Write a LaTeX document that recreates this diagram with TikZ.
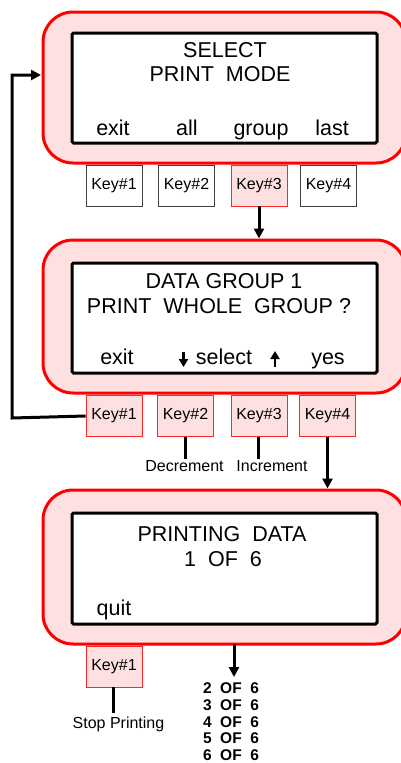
\documentclass[tikz,border=0pt]{standalone}
\usepackage{fontspec}
\setmainfont{Liberation Sans}
\usetikzlibrary{arrows.meta}
\definecolor{pinkfill}{RGB}{255,224,224}
\definecolor{redline}{RGB}{255,0,0}
\begin{document}
\begin{tikzpicture}[x=1pt,y=-1pt,
  screen/.style={draw=redline, fill=pinkfill, line width=3pt, rounded corners=30pt, inner sep=0pt, minimum width=363pt},
  lcd/.style={draw=black, fill=white, line width=3pt, rounded corners=1.5pt, inner sep=0pt, minimum width=305pt},
  keyw/.style={draw=black!75, fill=white, line width=0.7pt, minimum width=56pt, minimum height=41pt, inner sep=0pt, font=\fontsize{16}{19}\selectfont},
  keyp/.style={keyw, draw=redline!85, fill=pinkfill},
  big/.style={anchor=base, inner sep=0pt, font=\fontsize{21.5}{25}\selectfont},
  small/.style={anchor=base, inner sep=0pt, font=\fontsize{16}{19}\selectfont},
  boldlbl/.style={anchor=base, inner sep=0pt, font=\bfseries\fontsize{15.5}{18}\selectfont},
  conn/.style={line width=3pt},
  arr/.style={conn, -{Triangle[length=10pt,width=10pt]}},
  sarr/.style={line width=2.4pt, -{Triangle[length=8pt,width=9pt]}}
]
\useasboundingbox (0,0) rectangle (401,763);
\clip (0,0) rectangle (401,763);

% ---------- screen 1 ----------
\node[screen, minimum height=151pt] (s1) at (224.5,87.5) {};
\node[lcd, minimum height=110pt] (l1) at (224.5,88) {};
\node[big] (t11) at (225,57) {SELECT};
\node[big] (t12) at (220,81) {PRINT\ \ MODE};
\node[big] (f11) at (113,135) {exit};
\node[big] (f12) at (187,135) {all};
\node[big] (f13) at (261,135) {group};
\node[big] (f14) at (332,135) {last};
\node[keyw] (k11) at (114,185.5) {Key\#1};
\node[keyw] (k12) at (186.5,185.5) {Key\#2};
\node[keyp] (k13) at (259,185.5) {Key\#3};
\node[keyw] (k14) at (328.5,185.5) {Key\#4};

% ---------- screen 2 ----------
\node[screen, minimum height=153pt] (s2) at (224.5,316.5) {};
\node[lcd, minimum height=110pt] (l2) at (224.5,318) {};
\node[big] (t21) at (224,288) {DATA GROUP 1};
\node[big] (t22) at (219,313) {PRINT\ \ WHOLE\ \ GROUP ?};
\node[big] (f21) at (117,364) {exit};
\node[big] (f22) at (224,364) {select};
\node[big] (f24) at (328,364) {yes};
\coordinate (da1) at (183.5,352);
\coordinate (da2) at (183.5,367);
\coordinate (ua1) at (275,367);
\coordinate (ua2) at (275,351);
\draw[sarr] (da1) -- (da2);
\draw[sarr] (ua1) -- (ua2);
\node[keyp] (k21) at (114,416) {Key\#1};
\node[keyp] (k22) at (185.5,416) {Key\#2};
\node[keyp] (k23) at (259,416) {Key\#3};
\node[keyp] (k24) at (327.5,416) {Key\#4};
\node[small] (dec) at (184.5,471) {Decrement};
\node[small] (inc) at (272,471) {Increment};

% ---------- screen 3 ----------
\node[screen, minimum height=154pt] (s3) at (224.5,567) {};
\node[lcd, minimum height=111pt] (l3) at (224.5,568.5) {};
\node[big] (t31) at (222,541) {PRINTING\ \ DATA};
\node[big] (t32) at (223,566) {1\ \ OF\ \ 6};
\node[big] (f31) at (114,615) {quit};
\node[keyp] (k31) at (114,666.5) {Key\#1};
\node[small] (stop) at (118.5,728) {Stop Printing};
\node[boldlbl] (b2) at (231,693) {2\ \ OF\ \ 6};
\node[boldlbl] (b3) at (231,710) {3\ \ OF\ \ 6};
\node[boldlbl] (b4) at (231,727) {4\ \ OF\ \ 6};
\node[boldlbl] (b5) at (231,743) {5\ \ OF\ \ 6};
\node[boldlbl] (b6) at (231,760) {6\ \ OF\ \ 6};

% ---------- connectors ----------
\coordinate (fbA) at (12,418);
\coordinate (fbB) at (12,75);
\coordinate (fbC) at (41,75);
\draw[arr] (k21.west) -- (fbA) -- (fbB) -- (fbC);
\draw[arr] (k13.south) -- (k13.south |- s2.north);
\draw[arr] (k24.south) -- (k24.south |- s3.north);
\coordinate (decT) at (185,459);
\coordinate (incT) at (258,459);
\draw[conn] (k22.south -| decT) -- (decT);
\draw[conn] (k23.south -| incT) -- (incT);
\coordinate (stopT) at (113,713);
\coordinate (s3out) at (234,644);
\coordinate (listT) at (234,677);
\draw[conn] (k31.south -| stopT) -- (stopT);
\draw[arr] (s3out) -- (listT);
\end{tikzpicture}
\end{document}
